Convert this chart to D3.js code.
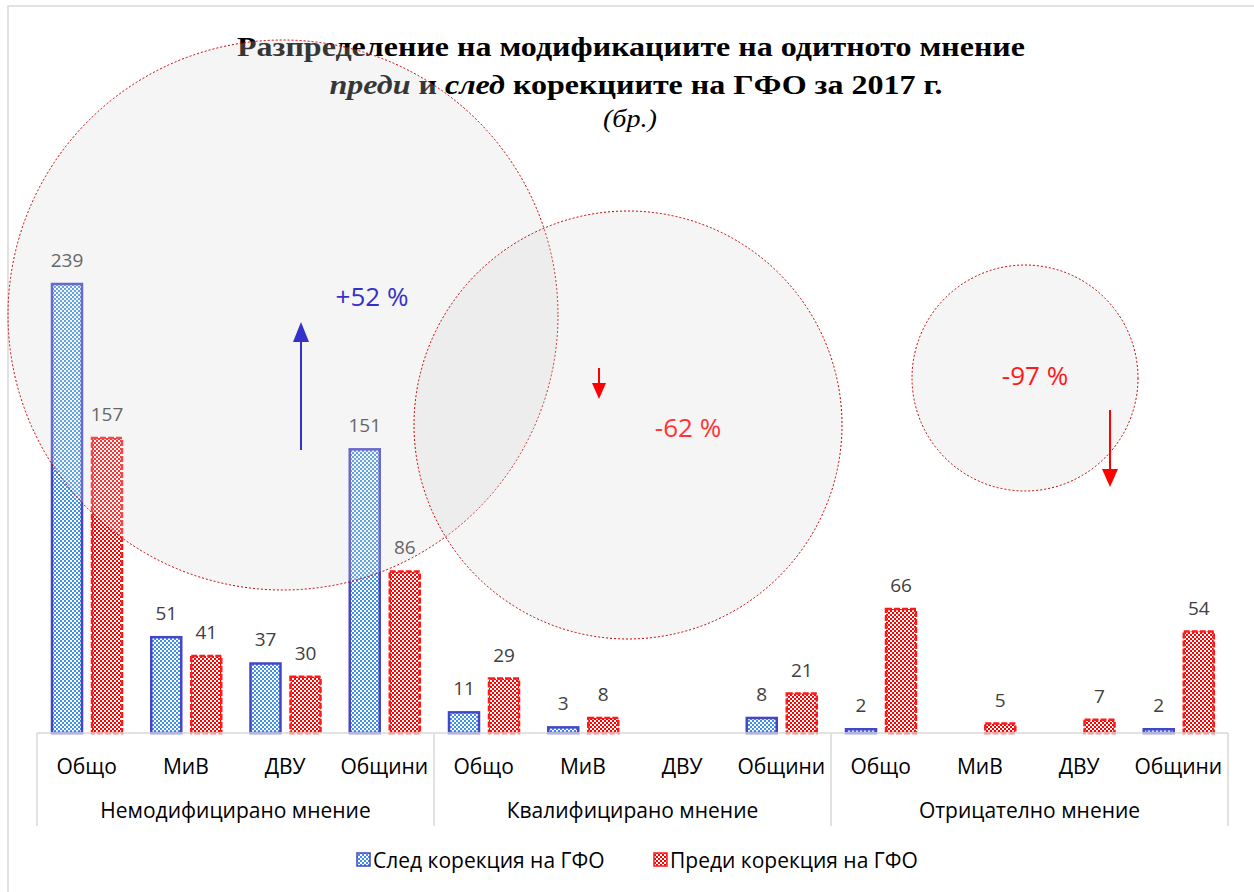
<!DOCTYPE html>
<html>
<head>
<meta charset="utf-8">
<script src="https://cdn.jsdelivr.net/npm/d3@7"></script>
<style>
  body { margin: 0; background: #fff; }
  svg { display: block; }
</style>
</head>
<body>
<div id="chart"></div>
<script>
// данни
const groups = ["Немодифицирано мнение", "Квалифицирано мнение", "Отрицателно мнение"];
const subcats = ["Общо", "МиВ", "ДВУ", "Общини"];
const afterVals = [239, 51, 37, 151, 11, 3, null, 8, 2, null, null, 2];
const beforeVals = [157, 41, 30, 86, 29, 8, null, 21, 66, 5, 7, 54];
const seriesNames = ["След корекция на ГФО", "Преди корекция на ГФО"];

const W = 1254, H = 892;
const svg = d3.select("#chart").append("svg").attr("width", W).attr("height", H);

const defs = svg.append("defs");
function checker(id, color) {
  const p = defs.append("pattern").attr("id", id)
    .attr("width", 4).attr("height", 4).attr("patternUnits", "userSpaceOnUse");
  p.append("rect").attr("width", 4).attr("height", 4).attr("fill", "#fff");
  p.append("rect").attr("width", 2).attr("height", 2).attr("fill", color);
  p.append("rect").attr("x", 2).attr("y", 2).attr("width", 2).attr("height", 2).attr("fill", color);
}
checker("pBlue", "#3f90e6");
checker("pRed", "#ff0000");

// рамка
svg.append("rect").attr("x", 8).attr("y", 6).attr("width", 1270).attr("height", 920)
  .attr("fill", "none").attr("stroke", "#d9d9d9").attr("stroke-width", 1.5);

// заглавие
const title = svg.append("g").attr("font-family", "'Liberation Serif', 'Times New Roman', serif")
  .attr("fill", "#000").attr("text-anchor", "middle");
title.append("text").attr("x", 631).attr("y", 56).attr("font-size", 28).attr("font-weight", "bold")
  .attr("textLength", 788).attr("lengthAdjust", "spacingAndGlyphs")
  .text("Разпределение на модификациите на одитното мнение");
const t2 = title.append("text").attr("x", 636).attr("y", 94).attr("font-size", 28).attr("font-weight", "bold")
  .attr("textLength", 613).attr("lengthAdjust", "spacingAndGlyphs");
t2.append("tspan").attr("font-style", "italic").text("преди");
t2.append("tspan").text(" и ");
t2.append("tspan").attr("font-style", "italic").text("след");
t2.append("tspan").text(" корекциите на ГФО за 2017 г.");
title.append("text").attr("x", 630).attr("y", 127).attr("font-size", 26).attr("font-style", "italic")
  .attr("textLength", 54).attr("lengthAdjust", "spacingAndGlyphs").text("(бр.)");

// скали
const left = 37, right = 1228, base = 733;
const idx = d3.range(afterVals.length);
const x0 = d3.scaleBand().domain(idx).range([left, right]);
const x1 = d3.scaleBand().domain([0, 1]).range([14, 86]).paddingInner(0.2);
const y = d3.scaleLinear().domain([0, 239]).range([base, 284]);

const font = "'Open Sans', 'Noto Sans', sans-serif";

// стълбове
const series = [
  { vals: afterVals, fill: "url(#pBlue)", stroke: "#4545c8", dash: null },
  { vals: beforeVals, fill: "url(#pRed)", stroke: "#ff1a1a", dash: "6,2" }
];
series.forEach((s, si) => {
  const data = idx.filter(i => s.vals[i] != null).map(i => ({ i, v: s.vals[i] }));
  svg.append("g").selectAll("rect").data(data).join("rect")
    .attr("x", d => x0(d.i) + x1(si) + 1)
    .attr("y", d => y(d.v))
    .attr("width", x1.bandwidth() - 2)
    .attr("height", d => base - y(d.v))
    .attr("fill", s.fill)
    .attr("stroke", s.stroke).attr("stroke-width", 2.5)
    .attr("stroke-dasharray", s.dash);
  svg.append("g").selectAll("text").data(data).join("text")
    .attr("x", d => x0(d.i) + x1(si) + x1.bandwidth() / 2)
    .attr("y", d => y(d.v) - 17)
    .attr("text-anchor", "middle").attr("font-family", font).attr("font-size", 19)
    .attr("fill", "#404040").text(d => d.v);
});

// ос
const axis = svg.append("g").attr("stroke", "#d9d9d9").attr("stroke-width", 1.5);
axis.append("line").attr("x1", left).attr("x2", right).attr("y1", base).attr("y2", base);
d3.range(groups.length + 1).forEach(g => {
  const gx = left + g * 4 * x0.step();
  axis.append("line").attr("x1", gx).attr("x2", gx).attr("y1", base).attr("y2", 826);
});
svg.append("g").selectAll("text").data(idx).join("text")
  .attr("x", i => x0(i) + x0.bandwidth() / 2).attr("y", 774)
  .attr("text-anchor", "middle").attr("font-family", font).attr("font-size", 21)
  .attr("fill", "#000").text(i => subcats[i % 4]);
svg.append("g").selectAll("text").data(groups).join("text")
  .attr("x", (g, k) => left + (k * 4 + 2) * x0.step()).attr("y", 818)
  .attr("text-anchor", "middle").attr("font-family", font).attr("font-size", 21)
  .attr("fill", "#000").text(g => g);

// кръгове
const circles = [
  { cx: 283, cy: 315, r: 275 },
  { cx: 628, cy: 425, r: 214 },
  { cx: 1025, cy: 378, r: 113 }
];
svg.append("g").selectAll("circle").data(circles).join("circle")
  .attr("cx", d => d.cx).attr("cy", d => d.cy).attr("r", d => d.r)
  .attr("fill", "#d9d9d9").attr("fill-opacity", 0.25)
  .attr("stroke", "#c00000").attr("stroke-width", 1).attr("stroke-dasharray", "2,2");

// стрелки
function arrow(x, yFrom, yTo, color, hw, hl) {
  const dir = yTo > yFrom ? 1 : -1;
  svg.append("line").attr("x1", x).attr("x2", x).attr("y1", yFrom).attr("y2", yTo - dir * hl)
    .attr("stroke", color).attr("stroke-width", 2);
  svg.append("path")
    .attr("d", `M${x - hw / 2},${yTo - dir * hl} L${x + hw / 2},${yTo - dir * hl} L${x},${yTo} Z`)
    .attr("fill", color);
}
arrow(301, 450, 322, "#3333cc", 16, 20);
arrow(599, 368, 399, "#ff0000", 14, 16);
arrow(1110, 410, 487, "#ff0000", 16, 18);

const pct = [
  { x: 372, y: 306, t: "+52 %", c: "#3333cc" },
  { x: 688, y: 437, t: "-62 %", c: "#ff3333" },
  { x: 1035, y: 385, t: "-97 %", c: "#ff1a1a" }
];
svg.append("g").selectAll("text").data(pct).join("text")
  .attr("x", d => d.x).attr("y", d => d.y).attr("text-anchor", "middle")
  .attr("font-family", font).attr("font-size", 26).attr("fill", d => d.c).text(d => d.t);

// легенда
const legend = [
  { x: 357, fill: "url(#pBlue)", stroke: "#4545c8" },
  { x: 654, fill: "url(#pRed)", stroke: "#ff1a1a" }
];
legend.forEach((l, k) => {
  svg.append("rect").attr("x", l.x).attr("y", 853).attr("width", 13).attr("height", 13)
    .attr("fill", l.fill).attr("stroke", l.stroke).attr("stroke-width", 1.5);
  svg.append("text").attr("x", l.x + 16).attr("y", 868).attr("font-family", font)
    .attr("font-size", 21).attr("fill", "#000").text(seriesNames[k]);
});
</script>
</body>
</html>
